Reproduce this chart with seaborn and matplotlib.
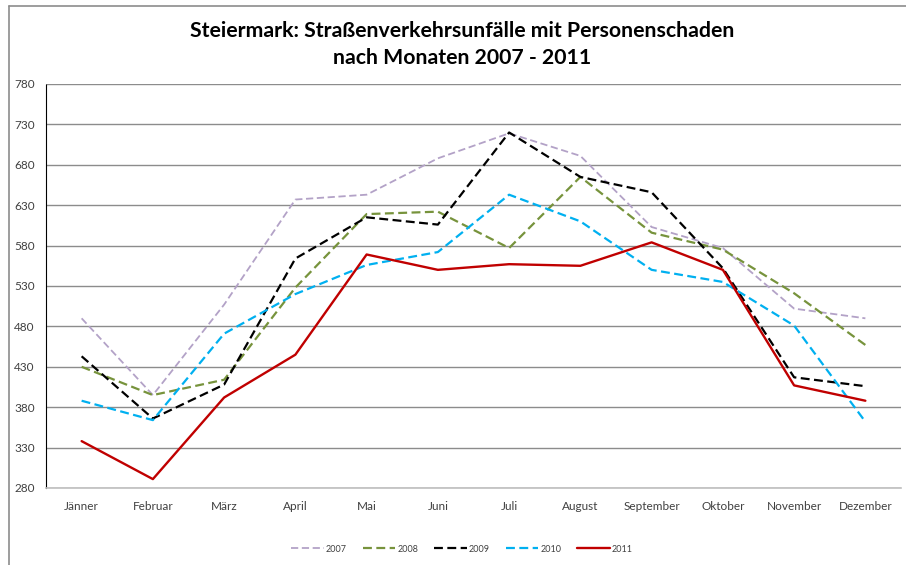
import numpy as np
import pandas as pd
import seaborn as sns
import matplotlib.pyplot as plt
from matplotlib.lines import Line2D

months = ["Jänner", "Februar", "März", "April", "Mai", "Juni", "Juli",
          "August", "September", "Oktober", "November", "Dezember"]
v2007 = [490, 395, 507, 637, 643, 688, 719, 691, 603, 577, 502, 490]
v2008 = [430, 395, 414, 528, 619, 622, 577, 665, 596, 575, 521, 457]
v2009 = [443, 366, 408, 564, 615, 606, 720, 665, 646, 552, 417, 406]
v2010 = [388, 364, 471, 520, 556, 572, 643, 610, 550, 535, 481, 362]
v2011 = [338, 291, 392, 445, 569, 550, 557, 555, 584, 550, 407, 388]
years = ["2007", "2008", "2009", "2010", "2011"]

df = pd.DataFrame({"2007": v2007, "2008": v2008, "2009": v2009,
                   "2010": v2010, "2011": v2011}, index=months)
df["Monat"] = months
long = df.melt(id_vars="Monat", var_name="Jahr", value_name="Unfaelle")

palette = {"2007": "#b3a2c7", "2008": "#77933c", "2009": "#000000",
           "2010": "#00b0f0", "2011": "#c00000"}
dashes = {"2007": (4, 2), "2008": (4, 2), "2009": (4, 2), "2010": (4, 2), "2011": ""}
widths = {"2007": 1.3, "2008": 1.6, "2009": 1.6, "2010": 1.6, "2011": 1.7}

sns.set_theme(style="white")
plt.rcParams["font.family"] = ["Lato", "DejaVu Sans"]

fig = plt.figure(figsize=(9.06, 5.65), dpi=100)
ax = fig.add_axes([46 / 906, 1 - 488 / 565, (901 - 46) / 906, (488 - 84) / 565])

for y in years:
    sub = long[long["Jahr"] == y]
    sns.lineplot(data=sub, x="Monat", y="Unfaelle", ax=ax, color=palette[y],
                 sort=False, lw=widths[y], legend=False)
    line = ax.lines[-1]
    if dashes[y]:
        line.set_dashes(dashes[y])

ax.set_xlim(-0.5, 11.5)
ax.set_ylim(280, 780)
ax.set_yticks(np.arange(280, 781, 50))
ax.yaxis.grid(True, color="#8c8c8c", lw=1)
ax.set_axisbelow(True)
ax.set_xlabel("")
ax.set_ylabel("")
ax.tick_params(axis="both", labelsize=8.5, colors="#404040", length=0)
ax.tick_params(axis="x", pad=9)
ax.tick_params(axis="y", pad=8)
for s in ["top", "right"]:
    ax.spines[s].set_visible(False)
ax.spines["bottom"].set_color("#bfbfbf")
ax.spines["bottom"].set_linewidth(1.2)
ax.spines["left"].set_color("#000000")
ax.spines["left"].set_linestyle((0, (1, 1)))
ax.spines["left"].set_linewidth(0.8)

fig.text(0.51, 0.946, "Steiermark: Straßenverkehrsunfälle mit Personenschaden",
         ha="center", va="center", fontsize=15.3, fontweight="bold", color="#000000")
fig.text(0.51, 0.898, "nach Monaten 2007 - 2011",
         ha="center", va="center", fontsize=15.3, fontweight="bold", color="#000000")

handles = []
for y in years:
    h = Line2D([], [], color=palette[y], lw=widths[y])
    if dashes[y]:
        h.set_dashes(dashes[y])
    handles.append(h)
fig.legend(handles, years, loc="center", bbox_to_anchor=(0.51, 1 - 549 / 565),
           ncol=5, frameon=False, fontsize=6.5, handlelength=3.6, handletextpad=0.2,
           columnspacing=1.8, labelcolor="#404040")

# outer chart frame
fig.add_artist(Line2D([9 / 906, 1.0], [1 - 6 / 565, 1 - 6 / 565], color="#8c8c8c", lw=1.2,
                      transform=fig.transFigure))
fig.add_artist(Line2D([9 / 906, 9 / 906], [0, 1 - 6 / 565], color="#8c8c8c", lw=1.2,
                      transform=fig.transFigure))

fig.savefig("out.png", dpi=100)
